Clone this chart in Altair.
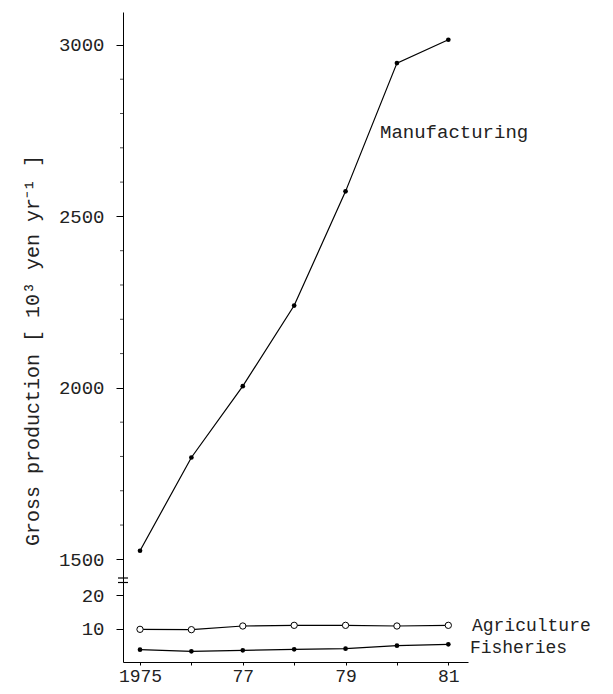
import altair as alt
import pandas as pd

years = [1975, 1976, 1977, 1978, 1979, 1980, 1981]
manufacturing = [1525, 1797, 2005, 2240, 2573, 2947, 3015]
agriculture = [9.8, 9.7, 10.8, 11.0, 11.0, 10.8, 11.0]
fisheries = [3.7, 3.2, 3.5, 3.8, 4.0, 4.9, 5.3]

label_text = ["Manufacturing", "Agriculture", "Fisheries"]
label_year = [1979.67, 1981.46, 1981.42]
label_value = [2746, 10.8, 4.3]

y_major = [10, 20, 1500, 2000, 2500, 3000]
y_minor = [1600, 1700, 1800, 1900, 2100, 2200, 2300, 2400, 2600, 2700, 2800, 2900]

rows = []
for name, vals in [("Manufacturing", manufacturing), ("Agriculture", agriculture), ("Fisheries", fisheries)]:
    for yr, v in zip(years, vals):
        rows.append({"year": yr, "value": v, "series": name})
df = pd.DataFrame(rows)
labels = pd.DataFrame({"year": label_year, "value": label_value, "text": label_text})
minor = pd.DataFrame({"value": y_minor})

FONT = "Liberation Mono"

x_enc = alt.X(
    "year:Q",
    scale=alt.Scale(domain=[1974.669, 1981.383], nice=False, zero=False),
    axis=alt.Axis(
        values=years,
        labelExpr="datum.value == 1975 ? '1975' : (datum.value % 2 == 1 ? substring(toString(datum.value), 2) : '')",
        title=None, grid=False, tickSize=3, labelPadding=16, labelBaseline="alphabetic",
        labelFont=FONT, labelFontSize=18, labelColor="#222",
        domainColor="black", tickColor="black", labelFlush=False, labelOverlap=False,
    ),
)
y_enc = alt.Y(
    "value:Q",
    scale=alt.Scale(domain=[0, 24, 1445, 3096], range=[650, 570, 566.2, 0], nice=False, zero=False),
    axis=alt.Axis(
        values=y_major, format="d",
        tickSize=7, labelPadding=12, grid=False, labelOverlap=False,
        labelFont=FONT, labelFontSize=19, labelColor="#222",
        domainColor="black", tickColor="black",
        title="Gross production [ 10³ yen yr⁻¹ ]",
        titleFont=FONT, titleFontSize=20, titleFontWeight="normal", titleColor="#222",
        titleAngle=-90, titleX=-91, titleY=338, titleAlign="center", titleBaseline="middle",
    ),
)

base = alt.Chart(df)
lines = base.mark_line(color="black", strokeWidth=1.2).encode(x=x_enc, y=y_enc, detail="series:N")
filled = base.transform_filter("datum.series != 'Agriculture'").mark_point(
    filled=True, color="black", size=22, opacity=1
).encode(x=x_enc, y=y_enc)
opened = base.transform_filter("datum.series == 'Agriculture'").mark_point(
    filled=True, fill="white", stroke="black", strokeWidth=1, size=40, opacity=1
).encode(x=x_enc, y=y_enc)
texts = alt.Chart(labels).mark_text(
    align="left", baseline="middle", font=FONT, fontSize=18, color="#222"
).encode(x=alt.X("year:Q"), y=alt.Y("value:Q"), text="text:N",
         size=alt.condition("datum.text == 'Manufacturing'", alt.value(19), alt.value(18)))
minor_ticks = alt.Chart(minor).mark_tick(color="black", thickness=1, size=3).encode(
    y=alt.Y("value:Q"), x=alt.value(-1.5)
)

brk = pd.DataFrame({"k": ["a", "b"], "py": [566, 570.5]})
breaks = alt.Chart(brk).mark_rule(color="black", strokeWidth=1.2).encode(
    y=alt.Y("py:Q", scale=None), x=alt.value(-5), x2=alt.value(5)
)

chart = alt.layer(lines, filled, opened, texts, minor_ticks, breaks).properties(
    width=345, height=650,
    autosize=alt.AutoSizeParams(type="none"),
    padding={"left": 115, "top": 4, "right": 137, "bottom": 23},
).configure_view(stroke=None)

chart.save("out.html", embed_options={"renderer": "svg", "actions": False})
